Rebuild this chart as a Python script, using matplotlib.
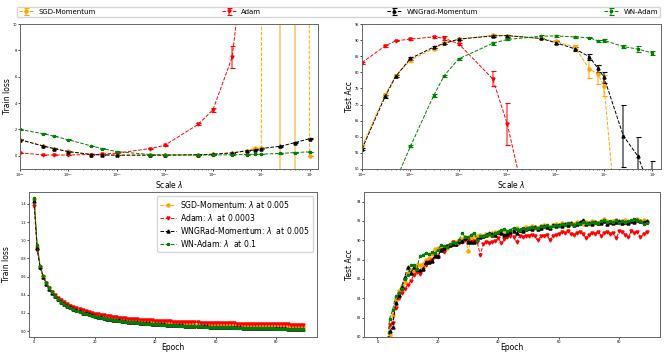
import matplotlib
matplotlib.use("Agg")
import matplotlib.pyplot as plt
import numpy as np

# ---------------- data ----------------
scales = [1e-5, 3e-5, 5e-5, 1e-4, 3e-4, 5e-4, 1e-3, 5e-3, 1e-2, 5e-2, 1e-1, 2.5e-1, 5e-1, 7.5e-1, 1, 2.5, 5, 10]
scale_ticks = [1e-5, 1e-4, 1e-3, 1e-2, 1e-1, 1e0, 1e1]
names = ["SGD-Momentum", "Adam", "WNGrad-Momentum", "WN-Adam"]

sgd_loss = [1.22, 0.75, 0.55, 0.33, 0.10, 0.07, 0.05, 0.05, 0.06, 0.09, 0.13, 0.23, 0.40, 0.58, 0.63, 500, 500, 0.0]
sgd_loss_err = [0.03, 0.02, 0.02, 0.02, 0.01, 0.01, 0.01, 0.01, 0.01, 0.01, 0.01, 0.02, 0.03, 0.05, 0.05, 600, 600, 0.0]
adam_loss = [0.22, 0.07, 0.06, 0.06, 0.10, 0.12, 0.20, 0.55, 0.80, 2.40, 3.50, 7.50, 17.0, 40.0, 60.0, 100.0, 150.0, 200.0]
adam_loss_err = [0.02, 0.01, 0.01, 0.01, 0.01, 0.01, 0.02, 0.03, 0.04, 0.06, 0.15, 0.80, 1.0, 1.0, 1.0, 1.0, 1.0, 1.0]
wngrad_loss = [1.22, 0.75, 0.55, 0.32, 0.10, 0.07, 0.05, 0.05, 0.05, 0.08, 0.12, 0.22, 0.38, 0.45, 0.55, 0.73, 1.00, 1.30]
wngrad_loss_err = [0.03, 0.02, 0.02, 0.02, 0.01, 0.01, 0.01, 0.01, 0.01, 0.01, 0.01, 0.02, 0.03, 0.03, 0.03, 0.03, 0.03, 0.04]
wnadam_loss = [2.00, 1.68, 1.50, 1.22, 0.75, 0.55, 0.32, 0.10, 0.07, 0.06, 0.06, 0.08, 0.10, 0.12, 0.13, 0.18, 0.25, 0.30]
wnadam_loss_err = [0.03, 0.02, 0.02, 0.02, 0.02, 0.02, 0.02, 0.01, 0.01, 0.01, 0.01, 0.01, 0.01, 0.01, 0.01, 0.01, 0.02, 0.02]

sgd_acc = [57.0, 73.0, 79.0, 83.8, 87.3, 89.0, 90.3, 91.5, 91.4, 90.5, 89.6, 87.8, 81.0, 79.4, 75.8, 10.0, 10.0, 10.0]
sgd_acc_err = [0.5, 0.5, 0.4, 0.6, 0.4, 0.3, 0.3, 0.3, 0.3, 0.3, 0.3, 0.6, 2.8, 3.0, 3.3, 0.0, 0.0, 0.0]
adam_acc = [83.0, 88.2, 89.8, 90.3, 91.0, 90.6, 88.8, 78.0, 64.0, 18.0, 10.0, 10.0, 10.0, 10.0, 10.0, 10.0, 10.0, 10.0]
adam_acc_err = [0.3, 0.3, 0.2, 0.4, 0.4, 0.7, 0.4, 2.3, 6.5, 0.0, 0.0, 0.0, 0.0, 0.0, 0.0, 0.0, 0.0, 0.0]
wngrad_acc = [56.2, 72.5, 78.8, 84.3, 87.8, 89.0, 90.3, 91.3, 91.4, 90.5, 89.2, 87.3, 84.8, 81.2, 78.4, 60.3, 54.0, 42.0]
wngrad_acc_err = [0.4, 0.4, 0.4, 0.4, 0.4, 0.3, 0.3, 0.3, 0.3, 0.3, 0.4, 0.6, 1.0, 1.1, 1.8, 9.6, 5.8, 10.5]
wnadam_acc = [20.0, 35.0, 46.5, 57.0, 72.7, 79.0, 84.2, 89.0, 90.2, 91.2, 91.3, 91.0, 90.7, 89.8, 89.9, 88.0, 87.2, 86.0]
wnadam_acc_err = [0.0, 0.0, 0.0, 0.3, 0.5, 0.3, 0.3, 0.5, 0.3, 0.4, 0.3, 0.3, 0.2, 0.3, 0.4, 0.5, 0.9, 0.5]

epochs = list(range(90))

sgd_train = [1.45, 0.93, 0.71, 0.605, 0.525, 0.47, 0.425, 0.388, 0.357, 0.332,
             0.31, 0.29, 0.272, 0.256, 0.241, 0.228, 0.216, 0.205, 0.195, 0.186,
             0.177, 0.169, 0.162, 0.155, 0.149, 0.143, 0.138, 0.133, 0.128, 0.124,
             0.120, 0.116, 0.113, 0.110, 0.107, 0.104, 0.101, 0.098, 0.096, 0.094,
             0.091, 0.089, 0.087, 0.085, 0.083, 0.081, 0.080, 0.078, 0.076, 0.075,
             0.073, 0.072, 0.070, 0.069, 0.068, 0.066, 0.065, 0.064, 0.063, 0.062,
             0.061, 0.060, 0.059, 0.058, 0.057, 0.056, 0.055, 0.054, 0.053, 0.053,
             0.052, 0.051, 0.050, 0.050, 0.049, 0.048, 0.048, 0.047, 0.046, 0.046,
             0.045, 0.044, 0.044, 0.043, 0.043, 0.042, 0.042, 0.041, 0.041, 0.040]
adam_train = [1.38, 0.89, 0.70, 0.60, 0.53, 0.475, 0.43, 0.395, 0.365, 0.34,
              0.318, 0.298, 0.280, 0.264, 0.250, 0.238, 0.227, 0.216, 0.206, 0.197,
              0.190, 0.183, 0.177, 0.171, 0.166, 0.161, 0.156, 0.152, 0.148, 0.144,
              0.140, 0.137, 0.134, 0.131, 0.128, 0.126, 0.123, 0.121, 0.119, 0.117,
              0.114, 0.112, 0.110, 0.109, 0.107, 0.105, 0.104, 0.102, 0.101, 0.099,
              0.098, 0.097, 0.096, 0.095, 0.094, 0.093, 0.092, 0.091, 0.090, 0.089,
              0.088, 0.087, 0.086, 0.086, 0.085, 0.084, 0.083, 0.082, 0.082, 0.081,
              0.080, 0.080, 0.079, 0.078, 0.078, 0.077, 0.076, 0.076, 0.075, 0.074,
              0.074, 0.073, 0.073, 0.072, 0.072, 0.071, 0.071, 0.070, 0.070, 0.069]
wngrad_train = [1.43, 0.92, 0.70, 0.60, 0.52, 0.465, 0.42, 0.382, 0.35, 0.325,
                0.302, 0.281, 0.262, 0.245, 0.23, 0.216, 0.204, 0.193, 0.183, 0.174,
                0.165, 0.157, 0.150, 0.143, 0.137, 0.131, 0.126, 0.121, 0.116, 0.112,
                0.108, 0.104, 0.100, 0.097, 0.094, 0.091, 0.088, 0.085, 0.083, 0.080,
                0.078, 0.076, 0.074, 0.072, 0.070, 0.068, 0.066, 0.064, 0.063, 0.061,
                0.059, 0.058, 0.057, 0.055, 0.054, 0.053, 0.052, 0.050, 0.049, 0.048,
                0.047, 0.046, 0.045, 0.044, 0.043, 0.042, 0.041, 0.040, 0.039, 0.038,
                0.037, 0.036, 0.035, 0.035, 0.034, 0.033, 0.032, 0.032, 0.031, 0.030,
                0.030, 0.029, 0.028, 0.028, 0.027, 0.026, 0.026, 0.025, 0.025, 0.024]
wnadam_train = [1.47, 0.95, 0.72, 0.61, 0.53, 0.47, 0.425, 0.385, 0.35, 0.325,
                0.30, 0.278, 0.258, 0.241, 0.226, 0.212, 0.200, 0.189, 0.179, 0.169,
                0.161, 0.153, 0.146, 0.139, 0.133, 0.127, 0.122, 0.117, 0.112, 0.108,
                0.104, 0.100, 0.097, 0.094, 0.091, 0.088, 0.085, 0.082, 0.080, 0.077,
                0.075, 0.073, 0.071, 0.069, 0.067, 0.065, 0.063, 0.061, 0.060, 0.058,
                0.057, 0.055, 0.054, 0.053, 0.052, 0.050, 0.049, 0.048, 0.047, 0.046,
                0.044, 0.043, 0.042, 0.041, 0.040, 0.039, 0.038, 0.037, 0.036, 0.035,
                0.034, 0.034, 0.033, 0.032, 0.031, 0.031, 0.030, 0.029, 0.028, 0.028,
                0.027, 0.026, 0.026, 0.025, 0.024, 0.024, 0.023, 0.022, 0.022, 0.021]

sgd_test = [46, 63, 72, 77, 80.2, 82.3, 83.8, 84.8, 85.3, 85.7,
            86.6, 86.9, 86.7, 87.5, 87.4, 87.6, 88.0, 88.2, 88.6, 89.1,
            89.2, 89.3, 89.0, 89.2, 89.5, 89.7, 89.8, 90.0, 90.1, 90.3,
            88.9, 90.2, 90.4, 90.5, 90.6, 90.4, 90.7, 90.6, 90.8, 90.9,
            90.8, 91.0, 91.1, 90.9, 91.0, 91.2, 91.3, 91.1, 91.2, 91.4,
            91.3, 91.5, 91.4, 91.3, 91.5, 91.6, 91.5, 91.4, 91.6, 91.7,
            91.6, 91.8, 91.7, 91.6, 91.8, 91.7, 91.9, 91.8, 91.7, 91.9,
            91.8, 92.0, 91.9, 91.8, 92.0, 92.2, 92.0, 91.9, 92.0, 92.1,
            91.9, 92.0, 92.1, 91.9, 92.0, 92.1, 92.2, 92.0, 92.1, 92.0]
adam_test = [45, 62, 72, 77.5, 81.2, 81.5, 83.0, 84.0, 84.6, 85.0,
             85.4, 85.8, 86.4, 86.7, 86.5, 87.0, 87.5, 87.8, 88.0, 88.5,
             88.3, 89.0, 88.8, 89.4, 89.5, 89.8, 89.6, 89.7, 89.8, 90.0,
             90.0, 89.8, 89.9, 89.8, 88.5, 89.6, 89.8, 89.7, 89.8, 89.9,
             90.2, 89.7, 90.1, 90.3, 90.5, 90.3, 89.8, 90.4, 90.3, 90.5,
             90.5, 90.6, 90.4, 90.0, 90.4, 90.5, 90.6, 90.0, 90.4, 90.6,
             90.7, 90.9, 90.8, 91.0, 90.7, 90.6, 90.8, 90.9, 90.7, 90.2,
             90.6, 90.8, 90.7, 90.9, 90.5, 90.8, 90.9, 90.7, 90.8, 90.2,
             91.0, 90.9, 90.6, 90.3, 91.0, 90.8, 90.9, 90.3, 90.7, 90.9]
wngrad_test = [48, 64, 73, 77.5, 80.6, 81.0, 83.5, 84.3, 85.2, 86.2,
               87.2, 86.6, 87.2, 87.0, 86.9, 87.0, 87.8, 87.8, 87.9, 88.4,
               88.4, 89.0, 89.2, 89.4, 89.5, 89.6, 89.6, 89.9, 89.9, 90.2,
               89.8, 89.8, 89.8, 90.1, 90.3, 90.4, 90.6, 90.8, 90.7, 90.6,
               90.9, 90.8, 90.6, 90.7, 90.9, 91.0, 90.8, 91.1, 91.0, 91.2,
               91.3, 91.2, 91.4, 91.2, 91.3, 91.5, 91.4, 91.3, 91.6, 91.5,
               91.6, 91.5, 91.7, 91.6, 91.8, 91.6, 91.7, 91.9, 92.1, 91.7,
               91.8, 91.7, 91.9, 91.8, 91.8, 92.0, 91.7, 91.9, 91.8, 91.9,
               92.0, 91.8, 91.9, 91.8, 92.0, 91.9, 92.1, 92.0, 91.9, 92.0]
wnadam_test = [45, 66, 74, 78.3, 81.9, 82.8, 84.2, 84.6, 85.0, 86.0,
               86.4, 87.4, 87.4, 87.0, 88.4, 88.5, 88.7, 88.6, 88.8, 88.7,
               89.0, 89.5, 89.4, 89.3, 89.6, 89.8, 89.7, 90.0, 90.8, 90.3,
               90.3, 90.6, 90.8, 90.0, 90.4, 90.5, 90.6, 90.7, 90.5, 90.8,
               90.9, 91.1, 91.2, 91.0, 91.1, 91.3, 91.2, 91.1, 91.3, 91.2,
               91.3, 91.4, 91.3, 91.3, 91.5, 91.4, 91.6, 91.4, 91.5, 91.6,
               91.5, 91.7, 91.6, 91.8, 91.7, 91.6, 91.8, 91.7, 91.9, 91.8,
               91.7, 91.9, 91.8, 91.8, 92.0, 92.1, 91.9, 92.0, 91.9, 92.1,
               91.8, 92.0, 91.9, 92.0, 92.1, 92.2, 92.1, 92.0, 91.7, 91.8]

legend_labels = [r"SGD-Momentum: $\lambda$ at 0.005", r"Adam: $\lambda$  at 0.0003",
                 r"WNGRad-Momentum: $\lambda$  at 0.005", r"WN-Adam: $\lambda$  at 0.1"]

colors = ["orange", "red", "black", "green"]
markers = ["o", "v", "^", "*"]

# ---------------- figure ----------------
W, H = 664, 354
fig = plt.figure(figsize=(W / 100, H / 100), dpi=100)

def ax_px(l, t, r, b):
    return fig.add_axes([l / W, 1 - b / H, (r - l) / W, (b - t) / H])

ax1 = ax_px(20, 24, 318, 169)
ax2 = ax_px(362, 24, 661, 169)
ax3 = ax_px(29, 192, 317, 337)
ax4 = ax_px(364, 192, 660, 337)

TICK = 2.5
LAB = 5.5

def style(ax):
    ax.tick_params(labelsize=TICK, length=1.5, width=0.5, pad=0.5)
    ax.tick_params(which="minor", length=0.8, width=0.4)
    for s in ax.spines.values():
        s.set_color("#666666")
        s.set_linewidth(0.7)

loss_sets = [(sgd_loss, sgd_loss_err), (adam_loss, adam_loss_err),
             (wngrad_loss, wngrad_loss_err), (wnadam_loss, wnadam_loss_err)]
acc_sets = [(sgd_acc, sgd_acc_err), (adam_acc, adam_acc_err),
            (wngrad_acc, wngrad_acc_err), (wnadam_acc, wnadam_acc_err)]

handles = []
for i in range(4):
    y, e = loss_sets[i]
    h = ax1.errorbar(scales, y, yerr=e, color=colors[i], ls="--", lw=0.7,
                     marker=markers[i], ms=2.2, capsize=1.8, elinewidth=1.2,
                     capthick=0.8, label=names[i])
    for bar in h[2]:
        bar.set_alpha(0.6)
    handles.append(h)
    y, e = acc_sets[i]
    h2 = ax2.errorbar(scales, y, yerr=e, color=colors[i], ls="--", lw=0.7,
                      marker=markers[i], ms=2.2, capsize=1.8, elinewidth=1.2,
                      capthick=0.8)
    for bar in h2[2]:
        bar.set_alpha(0.6)

def px_x(l, r, xp):
    return (xp - l) / (r - l)

def px_y(t, b, yp):
    return (b - yp) / (b - t)

for ax in (ax1, ax2):
    ax.set_xscale("log")
    ax.set_xlim(1e-5, 15)
    ax.set_xticks(scale_ticks)
    ax.set_xlabel(r"Scale $\lambda$", fontsize=LAB)
    style(ax)
    ax.xaxis.set_minor_formatter(matplotlib.ticker.NullFormatter())
ax1.set_ylim(-1, 10)
ax1.set_yticks([0, 2, 4, 6, 8, 10])
ax1.set_ylabel("Train loss", fontsize=LAB)
ax2.set_ylim(50, 95)
ax2.set_yticks(np.arange(50, 96, 5))
ax2.set_ylabel("Test Acc", fontsize=LAB)

ax1.xaxis.set_label_coords(0.5, px_y(24, 169, 179))
ax2.xaxis.set_label_coords(0.5, px_y(24, 169, 179))
ax1.yaxis.set_label_coords(px_x(20, 318, 12), 0.5)
ax2.yaxis.set_label_coords(px_x(362, 661, 354), 0.5)

train_sets = [sgd_train, adam_train, wngrad_train, wnadam_train]
test_sets = [sgd_test, adam_test, wngrad_test, wnadam_test]
for i in range(4):
    ax3.plot(epochs, train_sets[i], color=colors[i], ls="--", lw=0.7,
             marker=markers[i], ms=2.2, label=legend_labels[i])
    ax4.plot(epochs, test_sets[i], color=colors[i], ls="--", lw=0.7,
             marker=markers[i], ms=2.2)

ax3.set_xlim(-1.7, 93.5)
ax3.set_ylim(-0.066, 1.532)
ax3.set_xticks([0, 20, 40, 60, 80])
ax3.set_yticks(np.arange(0, 1.41, 0.2))
ax3.set_xlabel("Epoch", fontsize=LAB)
ax3.set_ylabel("Train loss", fontsize=LAB)
ax3.legend(loc="upper right", fontsize=5.6, handlelength=2.0, borderpad=0.4,
           labelspacing=0.25, handletextpad=0.6, framealpha=0.8)
style(ax3)
ax3.xaxis.set_label_coords(0.5, px_y(192, 337, 343))
ax3.yaxis.set_label_coords(px_x(29, 317, 11), 0.5)

ax4.set_xlim(-4.45, 93.45)
ax4.set_ylim(80, 95)
ax4.set_xticks([0, 20, 40, 60, 80])
ax4.set_yticks(np.arange(80, 95, 2))
ax4.set_xlabel("Epoch", fontsize=LAB)
ax4.set_ylabel("Test Acc", fontsize=LAB)
style(ax4)
ax4.xaxis.set_label_coords(0.5, px_y(192, 337, 343))
ax4.yaxis.set_label_coords(px_x(364, 660, 354), 0.5)

fig.legend(handles=handles, labels=names, loc="lower left", ncol=4, mode="expand",
           bbox_to_anchor=(17 / W, 1 - 17 / H, 643 / W, 14 / H), fontsize=5,
           borderpad=0.3, handlelength=2.0, borderaxespad=0, framealpha=0.8)

fig.savefig("out.png", dpi=100)
